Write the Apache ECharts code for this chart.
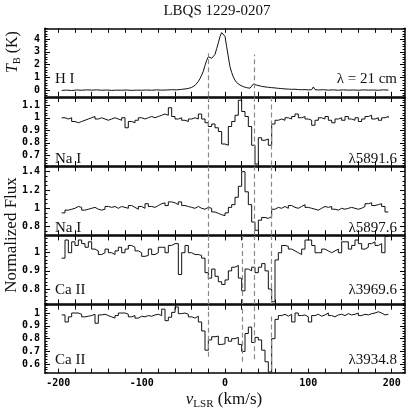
<!DOCTYPE html>
<html>
<head>
<meta charset="utf-8">
<script src="https://cdn.jsdelivr.net/npm/echarts@6/dist/echarts.min.js"></script>
<style>
html,body{margin:0;padding:0;background:#fff}
#chart{width:415px;height:413px}
</style>
</head>
<body>
<div id="chart"></div>
<script>
// velocity channels (km/s), left edge of each bin
var velGrid = [
  -196,-192,-188,-184,-180,-176,-172,-168,-164,-160,
  -156,-152,-148,-144,-140,-136,-132,-128,-124,-120,
  -116,-112,-108,-104,-100,-96,-92,-88,-84,-80,
  -76,-72,-68,-64,-60,-56,-52,-48,-44,-40,
  -36,-32,-28,-24,-20,-16,-12,-8,-4,0,
  4,8,12,16,20,24,28,32,36,40,
  44,48,52,56,60,64,68,72,76,80,
  84,88,92,96,100,104,108,112,116,120,
  124,128,132,136,140,144,148,152,156,160,
  164,168,172,176,180,184,188,192,196
];

// H I 21 cm brightness temperature
var hiVel = [-196,-190,-184,-178,-172,-166,-160,-154,-148,-142,-136,-130,-124,-118,-112,-106,-100,-94,-88,-82,
  -76,-70,-64,-58,-52,-48,-44,-40,-36,-32,-30,-28,-26,-24,-22,-20,-18,-16,-14,-12,-10,-8,-6,-4,-2,
  0,2,4,6,8,10,12,14,16,18,20,22,24,26,28,30,32,34,36,38,40,44,48,52,56,60,64,68,72,76,80,84,88,92,96,100,
  104,106,108,112,118,124,130,136,142,148,154,160,166,172,178,184,190,196];
var hiTemp = [0.01,0.03,0.0,0.04,0.02,0.05,0.03,0.05,0.02,0.04,0.01,0.03,0.02,0.04,0.01,0.03,0.02,0.04,0.02,0.05,
  0.03,0.04,0.06,0.05,0.09,0.12,0.16,0.24,0.4,0.7,0.93,1.2,1.5,1.95,2.35,2.62,2.58,2.5,2.45,2.8,3.25,3.7,4.2,4.5,4.55,
  4.2,3.4,2.6,1.85,1.4,1.05,0.8,0.62,0.5,0.42,0.36,0.3,0.26,0.22,0.2,0.18,0.24,0.5,0.62,0.42,0.34,0.32,0.28,0.25,0.22,0.2,0.17,0.15,0.12,0.11,0.09,0.1,0.07,0.06,0.07,0.05,
  0.06,0.28,0.07,0.04,0.06,0.03,0.05,0.02,0.05,0.03,0.04,0.02,0.05,0.03,0.04,0.02,0.05,0.03];

// Na I 5891.6
var naD2Flux = [
  1.0,0.99,1.0,0.97,0.96,0.97,0.98,0.99,1.0,1.01,
  0.99,1.0,0.99,0.98,0.99,1.0,0.99,0.98,1.0,0.92,
  0.97,0.96,0.98,1.0,0.99,1.0,1.01,1.0,1.01,1.02,
  1.03,1.02,1.08,1.01,0.99,1.0,0.98,0.97,0.99,1.0,
  0.99,1.03,0.99,0.96,0.93,0.95,0.92,0.89,0.79,0.78,
  0.93,0.97,1.02,1.14,1.05,1.01,0.93,0.78,0.63,0.84,
  0.82,0.83,0.78,0.95,0.98,0.99,0.98,1.0,0.99,1.01,
  1.03,1.0,1.01,0.99,0.98,0.94,0.98,1.0,0.99,1.01,
  0.98,0.96,0.99,1.0,0.98,1.01,0.99,0.98,1.0,0.97,
  0.99,1.01,1.02,0.99,1.0,0.98,1.0,1.01,1.0
];
// Na I 5897.6
var naD1Flux = [
  0.95,0.98,0.99,1.0,1.02,1.01,0.98,0.99,1.0,1.01,
  0.99,0.98,0.99,1.02,1.01,1.02,1.0,1.02,1.01,1.0,
  1.03,1.01,0.99,1.02,1.0,1.05,1.02,1.01,1.03,1.05,
  1.06,1.03,1.07,1.06,1.04,1.07,1.03,1.02,1.01,1.0,
  1.02,1.0,0.99,1.01,1.0,0.96,0.945,0.93,0.92,0.95,
  1.01,1.04,1.12,1.24,1.4,1.18,1.04,0.85,0.76,0.87,
  0.9,0.89,0.91,0.99,1.01,1.0,1.02,1.0,1.03,1.01,
  1.0,1.02,1.04,1.01,1.0,0.99,0.98,1.0,1.02,1.01,
  1.02,0.99,0.98,1.0,0.99,1.0,1.01,1.0,0.99,1.0,
  1.02,1.05,1.06,1.03,1.04,1.05,1.02,0.96,0.96
];
// Ca II 3969.6
var caHFlux = [
  0.97,1.07,1.0,1.06,1.04,1.07,1.05,1.03,1.06,1.02,
  1.01,0.99,1.0,1.02,1.0,0.99,1.01,1.03,1.0,1.02,
  1.04,1.03,1.01,1.0,0.98,0.985,1.02,0.99,1.0,1.03,
  1.03,1.0,1.04,1.05,1.05,0.88,1.0,1.04,1.0,0.99,
  0.99,0.985,0.97,0.89,0.86,0.91,0.87,0.84,0.825,0.85,
  0.9,0.92,0.93,0.86,0.79,0.91,0.9,0.92,0.89,0.92,
  0.94,0.9,0.8,0.73,0.96,1.0,1.04,1.035,1.02,1.01,
  1.0,0.99,1.02,1.07,1.07,1.04,1.0,1.0,1.02,1.01,
  1.0,1.01,1.02,1.0,1.06,1.06,1.02,1.04,1.07,1.05,
  1.02,1.03,1.05,1.06,1.04,1.05,1.0,1.09,1.09
];
// Ca II 3934.8
var caKFlux = [
  0.985,0.93,0.97,1.0,1.0,0.99,0.97,0.975,0.98,0.99,
  0.92,0.985,0.99,0.98,0.97,0.96,0.98,1.0,1.0,0.99,
  0.97,0.98,0.96,0.975,0.97,0.98,0.975,0.985,0.99,0.98,
  1.03,0.94,0.967,1.005,1.047,0.995,1.0,0.99,0.97,0.96,
  0.975,0.93,0.86,0.71,0.79,0.815,0.82,0.755,0.76,0.81,
  0.78,0.8,0.81,0.755,0.7,0.84,0.89,0.77,0.81,0.79,
  0.71,0.62,0.54,0.8,0.95,0.98,0.99,0.975,0.99,0.93,
  1.0,0.98,0.985,0.97,0.93,0.98,0.99,0.975,0.985,1.0,
  0.98,0.97,0.985,0.99,0.98,0.995,0.985,0.99,1.0,0.98,
  0.99,0.985,0.995,1.0,1.01,1.0,0.985,0.99,0.99
];

// velocity components marked with dashed lines
var compHI = [-20, 35];
var compNa = [-20, 35, 56];
var compCa = [-20, 21, 35, 56];

var xTicks = [];
for (var t = -200; t <= 200; t += 20) xTicks.push(t);
var xLabels = [-200, -100, 0, 100, 200];

function steps(lo, hi, d) {
  var out = [];
  for (var k = Math.ceil(lo / d - 1e-9); k * d <= hi + 1e-9; k++) out.push(Math.round(k * d * 1000) / 1000);
  return out;
}

var panels = [
  {min: -0.45, max: 4.83, major: [0, 1, 2, 3, 4], minor: 0.2, smooth: true,
   vel: hiVel, val: hiTemp, comps: compHI, lineLo: [-0.45, -0.45], lineHi: [2.9, 2.8],
   left: 'H I', right: 'λ = 21 cm', labelY: 79},
  {min: 0.618, max: 1.162, major: [0.7, 0.8, 0.9, 1, 1.1], minor: 0.02,
   vel: velGrid, val: naD2Flux, comps: compNa,
   left: 'Na I', right: 'λ5891.6', labelY: 159},
  {min: 0.712, max: 1.454, major: [0.8, 1, 1.2, 1.4], minor: 0.05,
   vel: velGrid, val: naD1Flux, comps: compNa,
   left: 'Na I', right: 'λ5897.6', labelY: 228},
  {min: 0.718, max: 1.0926, major: [0.8, 0.9, 1], minor: 0.02,
   vel: velGrid, val: caHFlux, comps: compCa,
   left: 'Ca II', right: 'λ3969.6', labelY: 290},
  {min: 0.5316, max: 1.0616, major: [0.6, 0.7, 0.8, 0.9, 1], minor: 0.02,
   vel: velGrid, val: caKFlux, comps: compCa,
   lineLo: [0.66, 0.62, 0.64, 0.56], lineHi: [1.0616, 1.0616, 1.0616, 0.99],
   left: 'Ca II', right: 'λ3934.8', labelY: 360}
];

var TOP = 28.3, STEP = 69.2, H = 68;
var LEFT = 45, RIGHT = 10;
var frame = {onZero: false, lineStyle: {color: '#000', width: 1.5}};
var tickFont = {fontFamily: 'DejaVu Sans Mono', fontWeight: 'bold', fontSize: 10, color: '#000'};
var serif = 'Liberation Serif';

var grids = [], xAxes = [], yAxes = [], series = [], graphics = [];

panels.forEach(function (p, i) {
  grids.push({left: LEFT, right: RIGHT, top: TOP + i * STEP, height: H});

  ['bottom', 'top'].forEach(function (pos) {
    xAxes.push({
      gridIndex: i, type: 'value', position: pos, min: -216, max: 216,
      splitLine: {show: false}, axisLine: frame,
      axisTick: {inside: true, length: 4.5, customValues: xTicks, lineStyle: {color: '#000', width: 1}},
      axisLabel: (pos === 'bottom' && i === 4)
        ? Object.assign({customValues: xLabels, margin: 5}, tickFont)
        : {show: false}
    });
  });

  var minorVals = steps(p.min, p.max, p.minor);
  ['left', 'right'].forEach(function (pos) {
    yAxes.push({
      gridIndex: i, type: 'value', position: pos, min: p.min, max: p.max,
      splitLine: {show: false}, axisLine: frame,
      axisTick: {inside: true, length: 5, customValues: p.major, lineStyle: {color: '#000', width: 1}},
      axisLabel: pos === 'left'
        ? Object.assign({customValues: p.major, margin: 5}, tickFont)
        : {show: false}
    });
    yAxes.push({
      gridIndex: i, type: 'value', position: pos, min: p.min, max: p.max,
      splitLine: {show: false}, axisLine: {show: false, onZero: false},
      axisTick: {inside: true, length: 2.5, customValues: minorVals, lineStyle: {color: '#000', width: 1}},
      axisLabel: {show: false}
    });
  });

  var mlData = p.comps.map(function (v, k) {
    if (p.lineLo) {
      return [{coord: [v, p.lineLo[k]]}, {coord: [v, p.lineHi[k]]}];
    }
    return {xAxis: v};
  });

  series.push({
    type: 'line', xAxisIndex: 2 * i, yAxisIndex: 4 * i,
    data: p.vel.map(function (v, k) { return [v, p.val[k]]; }),
    step: p.smooth ? false : 'end',
    showSymbol: false, symbol: 'none',
    lineStyle: {color: '#111', width: 1},
    markLine: {
      silent: true, symbol: ['none', 'none'], label: {show: false},
      lineStyle: {color: '#8a8a8a', type: [5, 3], width: 1.2},
      data: mlData
    }
  });

  graphics.push({type: 'text', x: 55, y: p.labelY,
    style: {text: p.left, font: '15px "' + serif + '"', fill: '#111', verticalAlign: 'middle'}});
  graphics.push({type: 'text', x: 397, y: p.labelY,
    style: {text: p.right, font: '15px "' + serif + '"', fill: '#111', align: 'right', verticalAlign: 'middle'}});
});

graphics.push({type: 'text', x: 217, y: 11,
  style: {text: 'LBQS 1229-0207', font: '15px "' + serif + '"', fill: '#111', align: 'center', verticalAlign: 'middle'}});
graphics.push({type: 'text', x: 13, y: 52, rotation: Math.PI / 2,
  style: {text: '{i|T}{s|B} (K)', fill: '#111', align: 'center', verticalAlign: 'middle',
    font: '16px "' + serif + '"',
    rich: {i: {fontFamily: serif, fontStyle: 'italic', fontSize: 16},
           s: {fontFamily: serif, fontSize: 10, padding: [8, 0, 0, 0]}}}});
graphics.push({type: 'text', x: 12, y: 235, rotation: Math.PI / 2,
  style: {text: 'Normalized Flux', font: '17px "' + serif + '"', fill: '#111', align: 'center', verticalAlign: 'middle'}});
graphics.push({type: 'text', x: 224, y: 400,
  style: {text: '{i|v}{s|LSR}{n| (km/s)}', fill: '#111', align: 'center', verticalAlign: 'middle',
    rich: {i: {fontFamily: serif, fontStyle: 'italic', fontSize: 17},
           s: {fontFamily: serif, fontSize: 11, padding: [8, 0, 0, 0]},
           n: {fontFamily: serif, fontSize: 17}}}});

var chart = echarts.init(document.getElementById('chart'), null, {renderer: 'canvas'});
chart.setOption({
  animation: false,
  backgroundColor: '#fff',
  grid: grids,
  xAxis: xAxes,
  yAxis: yAxes,
  series: series,
  graphic: graphics
});
</script>
</body>
</html>
